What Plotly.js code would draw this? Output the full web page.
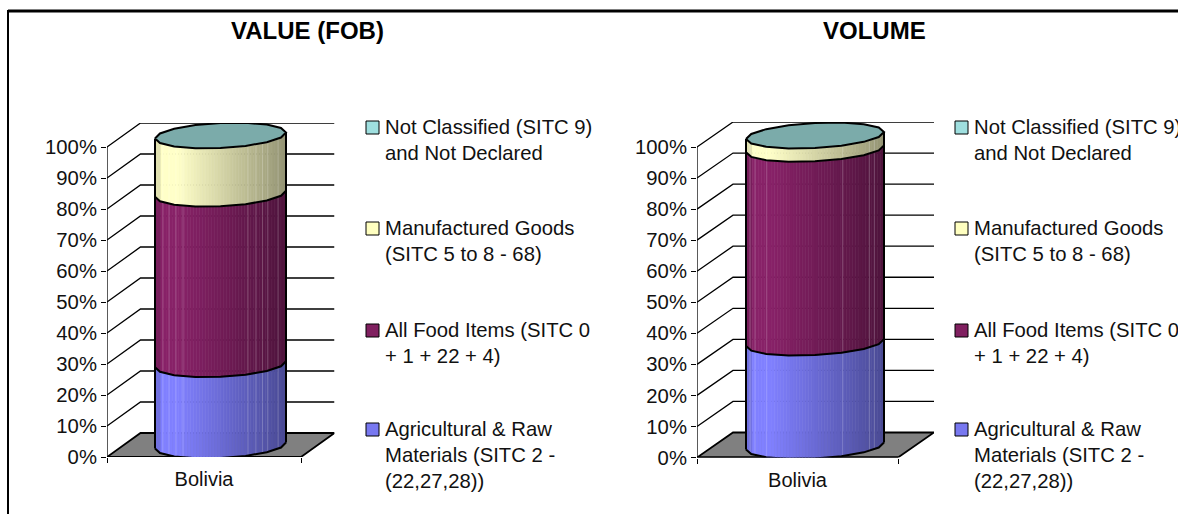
<!DOCTYPE html>
<html><head><meta charset="utf-8">
<script src="https://cdn.plot.ly/plotly-3.0.1.min.js"></script>
<style>html,body{margin:0;padding:0;background:#fff;overflow:hidden}#c{width:1178px;height:514px}</style>
</head><body><div id="c"></div>
<script>
// ---- data ----
const categories = ['Bolivia'];
const panelTitles = ['VALUE (FOB)', 'VOLUME'];
const seriesNames = [
  ['Not Classified (SITC 9)', 'and Not Declared'],
  ['Manufactured Goods', '(SITC 5 to 8 - 68)'],
  ['All Food Items (SITC 0', '+ 1 + 22 + 4)'],
  ['Agricultural & Raw', 'Materials (SITC 2 -', '(22,27,28))']
];
const valueAgricultural = [26.2];
const valueFood = [55.0];
const valueManufactured = [18.5];
const valueNotClassified = [0.3];
const volumeAgricultural = [33.3];
const volumeFood = [62.4];
const volumeManufactured = [4.0];
const volumeNotClassified = [0.3];
const yTicks = [0,10,20,30,40,50,60,70,80,90,100];

// ---- styling / geometry ----
const W = 1178, H = 514;
const FONT = '"Liberation Sans", Arial, sans-serif';
const bandColors = [[128,128,255],[136,34,104],[255,255,200]];
const topColor = '#7BABAA';
const swatchColors = ['#9FDFDF','#FFFFC0','#802060','#7878F0'];
const panels = [
  {x0:107,x1:301,dX:33.5,y0:457,y100:147,dY:24,cl:155,cr:286,ry:12.5,tilt:3,cy0:445.5,
   stripes:[.06,.107,.16,.214,.71,.77,.82,.86,.94],
   vals:[valueAgricultural,valueFood,valueManufactured,valueNotClassified],
   titleX:307,legendX:384,swatchX:366},
  {x0:697,x1:898,dX:36,y0:457.5,y100:147,dY:25,cl:746,cr:884,ry:12.5,tilt:3.5,cy0:446,
   stripes:[.03,.065,.15,.70,.895,.93],
   vals:[volumeAgricultural,volumeFood,volumeManufactured,volumeNotClassified],
   titleX:874,legendX:973,swatchX:955}
];
const legendRows = [[127,153],[228,254],[330,356],[429,455,481]];

const traces = [], annotations = [], shapes = [], layout = {};

panels.forEach((p, idx) => {
  const suffix = idx === 0 ? '' : '2';
  const xa = 'x' + suffix, ya = 'y' + suffix;
  const fw = p.x1 - p.x0, fh = p.y0 - p.y100;
  const xU = px => (px - p.x0) / fw;                 // px -> x axis units
  const yU = px => px * 100 / fh;                    // px length -> % units
  const dx = p.dX / fw, dy = yU(p.dY);
  const add = (x, y, line, fill) => traces.push({
    type:'scatter', mode:'lines', x, y, xaxis:xa, yaxis:ya, hoverinfo:'skip', showlegend:false,
    line:Object.assign({simplify:false}, line),
    fill: fill ? 'toself' : 'none', fillcolor: fill
  });
  const blk = {color:'#000', width:1.3};

  // back wall grid lines
  yTicks.slice(1).forEach(v => add([0, dx, 1+dx], [v, v+dy, v+dy], blk));
  // floor
  add([0,1,1+dx,dx,0],[0,0,dy,dy,0],{color:'#000',width:1.8},'#808080');
  // front axis line
  add([0,0],[0,100],blk);
  add([0,1],[0,0],{color:'#000',width:1.8});

  // cylinder outline built as a coarse polygon like the original
  const cx = (p.cl+p.cr)/2, rx = (p.cr-p.cl)/2;
  const baseV = yU(p.y0 - p.cy0);                    // height of the base centre above the front axis
  const N = 8;
  const frontPts = [], backPts = [];
  for (let k=0;k<=N;k++){
    const t = Math.PI*k/N, c = -Math.cos(t), s = Math.sin(t);
    frontPts.push([c, -yU(p.ry)*s + yU(p.tilt)*c]);
    backPts.push([c,  yU(p.ry)*s + yU(p.tilt)*c]);
  }
  const offsetAt = c => {                            // c in -1..1 along the front arc
    for (let k=0;k<N;k++){
      if (c <= frontPts[k+1][0]+1e-9){
        const a=frontPts[k], b=frontPts[k+1];
        return a[1] + (b[1]-a[1])*(c-a[0])/(b[0]-a[0]);
      }
    }
    return frontPts[N][1];
  };
  const X = c => xU(cx + rx*c);

  // cumulative stack
  const stack = [0];
  p.vals.forEach(a => stack.push(stack[stack.length-1] + a[0]));
  const level = v => v + baseV;

  // shaded strips
  const shade = u => u < .04 ? .88 : u < .18 ? 1 : 1 - .42*(u-.18)/.82;
  const S = 44;
  for (let b=0;b<3;b++){
    const lo = level(stack[b]), hi = level(stack[b+1]);
    const col = bandColors[b];
    for (let i=0;i<S;i++){
      const u0=i/S, u1=(i+1)/S, c0=2*u0-1, c1=2*u1-1;
      const f = shade((u0+u1)/2);
      const rgb = 'rgb('+col.map(q=>Math.round(q*f)).join(',')+')';
      // sample breakpoints so the polygon follows the coarse arc
      const cs=[c0]; frontPts.forEach(q=>{ if(q[0]>c0 && q[0]<c1) cs.push(q[0]); }); cs.push(c1);
      const xs=cs.map(X), top=cs.map(c=>hi+offsetAt(c)), bot=cs.map(c=>lo+offsetAt(c));
      add(xs.concat(xs.slice().reverse(),[xs[0]]), top.concat(bot.slice().reverse(),[top[0]]),
          {color:rgb,width:.6}, rgb);
    }
    // faint light stripes
    p.stripes.forEach(u=>{
      const c=2*u-1;
      add([X(c),X(c)],[lo+offsetAt(c),hi+offsetAt(c)],{color:'rgba(255,255,255,.2)',width:1});
    });
  }
  // band boundaries and silhouette
  for (let b=0;b<3;b++){
    const v = level(stack[b]);
    add(frontPts.map(q=>X(q[0])), frontPts.map(q=>v+q[1]), {color:'#000',width:2});
  }
  const tv = level(stack[4]);
  add([X(-1),X(-1)],[level(0)+offsetAt(-1),tv+offsetAt(-1)],{color:'#000',width:2});
  add([X(1),X(1)],[level(0)+offsetAt(1),tv+offsetAt(1)],{color:'#000',width:2});
  // top cap
  const capX = frontPts.map(q=>X(q[0])).concat(backPts.slice().reverse().map(q=>X(q[0])));
  const capY = frontPts.map(q=>tv+q[1]).concat(backPts.slice().reverse().map(q=>tv+q[1]));
  add(capX, capY, {color:'#000',width:2}, topColor);

  // axes
  layout['xaxis'+suffix] = {
    domain:[p.x0/W,(p.x1+p.dX)/W], range:[0,1+dx], fixedrange:true, zeroline:false, showgrid:false, showline:false,
    anchor:ya, tickmode:'array', tickvals:[.5], ticktext:categories, ticks:'', ticklabelstandoff:8,
    tickfont:{family:FONT,size:20,color:'#111'},
    minor:{tickmode:'array',tickvals:[0,1],ticks:'outside',ticklen:5,tickwidth:1,tickcolor:'#000',showgrid:false}
  };
  layout['yaxis'+suffix] = {
    domain:[1-p.y0/H,1-(p.y100-p.dY)/H], range:[0,100+dy], fixedrange:true, zeroline:false, showgrid:false, showline:false,
    anchor:xa, tickmode:'array', tickvals:yTicks, ticktext:yTicks.map(v=>v+'%'),
    ticks:'outside', ticklen:5, tickwidth:1, tickcolor:'#000',
    tickfont:{family:FONT,size:20.3,color:'#111'}
  };

  // title
  annotations.push({xref:'paper',yref:'paper',x:p.titleX/W,y:1-30/H,xanchor:'center',yanchor:'middle',showarrow:false,
    text:'<b>'+panelTitles[idx]+'</b>',font:{family:FONT,size:24,color:'#000'}});
  // legend, drawn at its own positions
  seriesNames.forEach((lines,i)=>{
    shapes.push({type:'rect',xref:'paper',yref:'paper',
      x0:p.swatchX/W,x1:(p.swatchX+13)/W,y0:1-(legendRows[i][0]+7)/H,y1:1-(legendRows[i][0]-6)/H,
      fillcolor:swatchColors[i],line:{color:'#000',width:1}});
    lines.forEach((t,j)=>annotations.push({xref:'paper',yref:'paper',x:p.legendX/W,y:1-legendRows[i][j]/H,
      xanchor:'left',yanchor:'middle',showarrow:false,align:'left',text:t,borderpad:0,
      font:{family:FONT,size:20.3,color:'#111'}}));
  });
});

// page frame
shapes.push({type:'line',xref:'paper',yref:'paper',x0:8/W,x1:1,y0:1-11/H,y1:1-11/H,line:{color:'#000',width:3}});
shapes.push({type:'line',xref:'paper',yref:'paper',x0:8/W,x1:8/W,y0:1-10/H,y1:0,line:{color:'#000',width:2}});

Object.assign(layout,{width:W,height:H,margin:{l:0,r:0,t:0,b:0},paper_bgcolor:'#fff',plot_bgcolor:'rgba(0,0,0,0)',
  showlegend:false,annotations,shapes,hovermode:false});
Plotly.newPlot('c',traces,layout,{displayModeBar:false,staticPlot:true});
</script></body></html>
